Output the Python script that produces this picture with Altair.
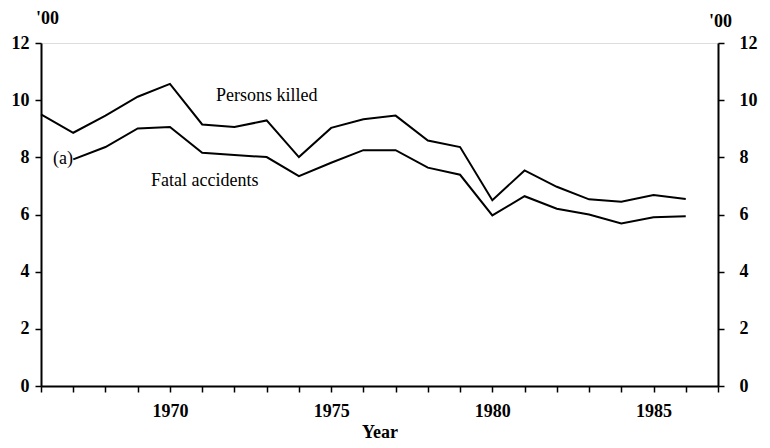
import altair as alt
import pandas as pd

years = list(range(1966, 1987))
persons_killed = [9.50, 8.86, 9.46, 10.12, 10.57, 9.15, 9.06, 9.29, 8.01, 9.03,
                  9.33, 9.46, 8.59, 8.36, 6.50, 7.54, 6.97, 6.53, 6.45, 6.68, 6.54]
fatal_years = list(range(1967, 1987))
fatal_accidents = [7.93, 8.36, 9.01, 9.06, 8.16, 8.08, 8.01, 7.34, 7.81, 8.25,
                   8.25, 7.64, 7.39, 5.97, 6.64, 6.20, 6.00, 5.69, 5.90, 5.94]
tick_years = list(range(1966, 1988))
label_years = [1970, 1975, 1980, 1985]

label_text = ["Persons killed", "Fatal accidents", "(a)"]
label_x = [1973.0, 1971.08, 1966.99]
label_y = [10.13, 7.17, 7.93]
label_align = ["center", "center", "right"]

FONT = "Liberation Serif, Times New Roman, serif"

df = pd.concat([
    pd.DataFrame({"Year": years, "value": persons_killed, "series": "Persons killed"}),
    pd.DataFrame({"Year": fatal_years, "value": fatal_accidents, "series": "Fatal accidents"}),
])
labels = pd.DataFrame({"text": label_text, "Year": label_x, "value": label_y, "align": label_align})

xscale = alt.Scale(domain=[1966, 1987], nice=False, zero=False)
yscale = alt.Scale(domain=[0, 12], nice=False)

label_test = " || ".join(f"datum.value == {y}" for y in label_years)
xaxis = alt.Axis(
    values=tick_years, format="d",
    labelExpr=f"({label_test}) ? datum.label : ''",
    labelOverlap=False, labelBound=False, labelFlush=False,
    grid=False, tickSize=6, tickWidth=1.5, tickColor="black",
    domainColor="black", domainWidth=2,
    labelFont=FONT, labelFontSize=18, labelFontWeight="bold", labelColor="black",
    labelPadding=10, title="Year", titleFont=FONT, titleFontSize=18,
    titleFontWeight="bold", titleColor="black", titlePadding=3,
)
X = alt.X("Year:Q", scale=xscale, axis=xaxis)

def yaxis(orient, tx, ty, pad):
    return alt.Axis(
        orient=orient, values=[0, 2, 4, 6, 8, 10, 12], grid=False,
        labelOverlap=False,
        tickSize=6, tickWidth=1.5, tickColor="black",
        domainColor="black", domainWidth=2,
        labelFont=FONT, labelFontSize=18, labelFontWeight="bold", labelColor="black",
        labelPadding=pad, title="'00", titleAngle=0, titleX=tx, titleY=ty,
        titleAlign="center", titleBaseline="middle",
        titleFont=FONT, titleFontSize=18, titleFontWeight="bold", titleColor="black",
    )

lines = alt.Chart(df).mark_line(color="black", strokeWidth=2).encode(
    x=X,
    y=alt.Y("value:Q", scale=yscale, axis=yaxis("left", 6, -25, 6)),
    detail="series:N",
)

right_axis = yaxis("right", 2, -22, 15)

text_c = alt.Chart(labels[labels["align"] == "center"]).mark_text(
    font=FONT, fontSize=18, color="black", align="center", baseline="middle"
).encode(
    x=X,
    y=alt.Y("value:Q", scale=yscale, axis=right_axis),
    text="text:N",
)

text_r = alt.Chart(labels[labels["align"] == "right"]).mark_text(
    font=FONT, fontSize=18, color="black", align="right", baseline="middle"
).encode(
    x=X,
    y=alt.Y("value:Q", scale=yscale, axis=right_axis),
    text="text:N",
)

texts = alt.layer(text_c, text_r)

chart = alt.layer(lines, texts).resolve_scale(y="independent").properties(
    width=677, height=343,
    autosize=alt.AutoSizeParams(type="none"),
    padding={"left": 33, "top": 35, "right": 44, "bottom": 62},
).configure_view(stroke=None).configure_axis(labelOverlap=False).configure(background="white")

chart.save("out.html", embed_options={"renderer": "svg", "actions": False})
